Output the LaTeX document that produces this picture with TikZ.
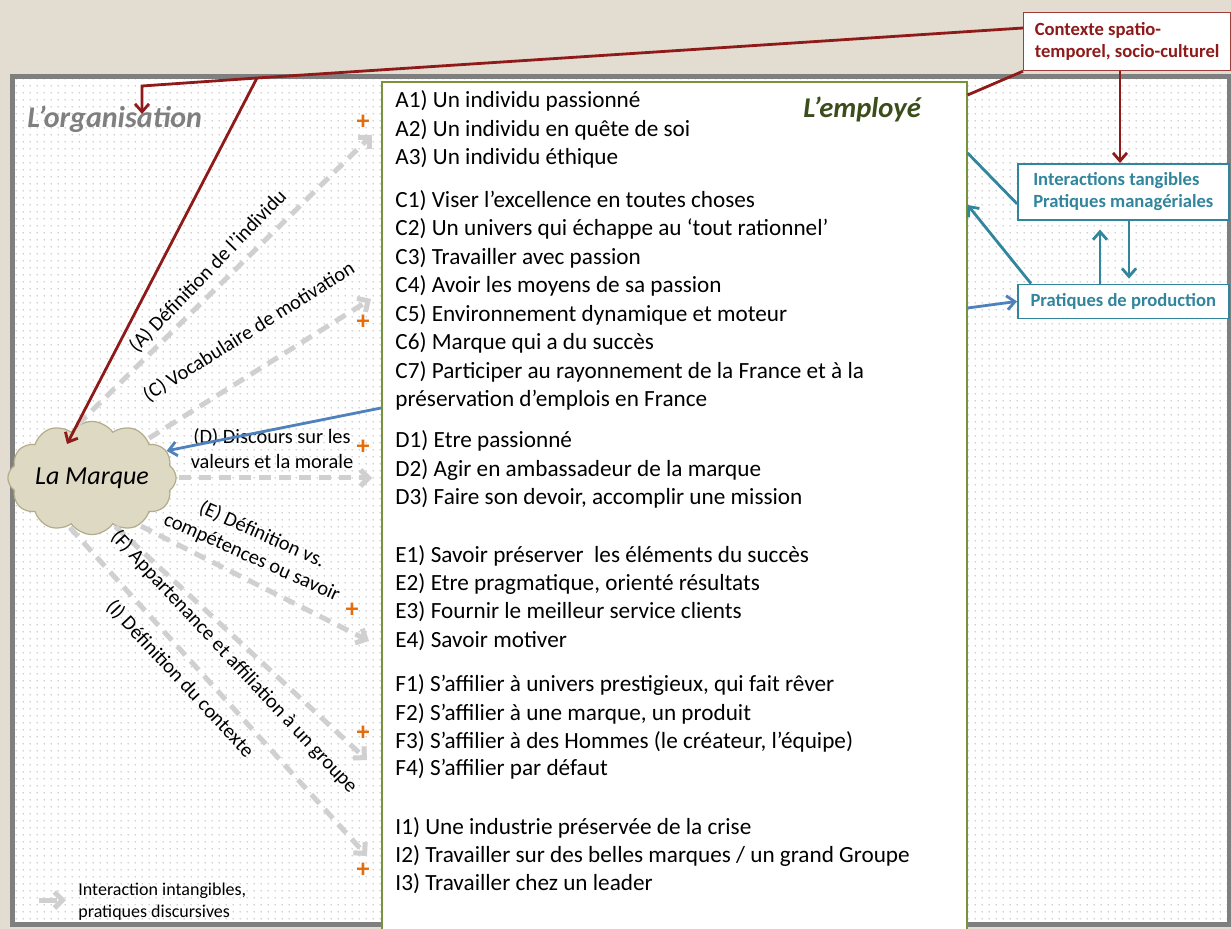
\documentclass[tikz,border=0pt]{standalone}
\usepackage{fontspec}
\setmainfont{Carlito}
\usepackage{tikz}
\usetikzlibrary{arrows.meta,positioning,shapes.symbols,patterns.meta}
\definecolor{paper}{HTML}{E3DCD0}
\definecolor{framegray}{HTML}{7F7F7F}
\definecolor{dotc}{HTML}{C4C4C4}
\definecolor{leaf}{HTML}{77933C}
\definecolor{leafdark}{HTML}{3B4D1A}
\definecolor{wine}{HTML}{8E1A1A}
\definecolor{tealc}{HTML}{31859C}
\definecolor{blu}{HTML}{4F81BD}
\definecolor{accent}{HTML}{E46C0A}
\definecolor{ghost}{HTML}{D0D0D0}
\definecolor{cloudfill}{HTML}{DDD9C3}
\definecolor{cloudline}{HTML}{B3AC8A}
\tikzdeclarepattern{
  name=dotgrid,
  type=uncolored,
  bounding box={(0pt,0pt) and (3.35pt,3.35pt)},
  tile size={(3.35pt,3.35pt)},
  code={\fill (1.675pt,1.675pt) circle (0.4pt);}
}
\tikzset{
  orgframe/.style={draw=framegray, line width=2.5pt},
  empbox/.style={rectangle, draw=leaf, line width=0.8pt, fill=white, inner sep=0pt},
  ctxbox/.style={rectangle, draw=wine!85, line width=0.6pt, fill=white, align=left,
                 text=wine, font=\bfseries\fontsize{9.3}{10.8}\selectfont},
  tanbox/.style={rectangle, draw=tealc, line width=0.8pt, fill=white, align=left,
                 text=tealc, font=\bfseries\fontsize{9.3}{11}\selectfont},
  brand/.style={cloud, cloud puffs=12, cloud puff arc=110, aspect=1.7, draw=cloudline,
                fill=cloudfill, line width=0.6pt, minimum width=76pt, minimum height=45pt,
                inner sep=0pt, font=\itshape\fontsize{13}{13}\selectfont},
  item/.style={anchor=base west, inner sep=0pt, font=\fontsize{11.6}{13}\selectfont},
  lbl/.style={align=center, inner sep=0pt, font=\fontsize{10.2}{12.5}\selectfont},
  plus/.style={text=accent, inner sep=0pt, font=\bfseries\fontsize{13}{13}\selectfont},
  garr/.style={-{Straight Barb[length=4pt,width=8pt]}, draw=ghost, line width=2.5pt,
               dash pattern=on 6pt off 4pt, shorten <=1pt},
  redl/.style={draw=wine, line width=1.4pt},
  reda/.style={redl, -{Straight Barb[length=4pt,width=7pt]}},
  tl/.style={draw=tealc, line width=1.4pt},
  ta/.style={tl, -{Straight Barb[length=4pt,width=7pt]}},
  ba/.style={draw=blu, line width=1.4pt, -{Straight Barb[length=4pt,width=7pt]}}
}

\begin{document}
\begin{tikzpicture}[x=0.5pt, y=-0.5pt]
  \path[use as bounding box, fill=paper] (0,0) rectangle (1231,929);
  \fill[white] (12,77) rectangle (1229,924);
  \fill[pattern=dotgrid, pattern color=dotc] (12,77) rectangle (1229,924);
  \draw[orgframe] (12,77) rectangle (1229,924);
  \node[anchor=base west, inner sep=0pt, text=framegray,
        font=\bfseries\itshape\fontsize{15}{15}\selectfont] (orgt) at (27,128) {L’organisation};

  \node[empbox, anchor=north west, minimum width=292.5pt, minimum height=425pt] (emp) at (381,81) {};
  \node[anchor=base west, inner sep=0pt, text=leafdark,
        font=\bfseries\itshape\fontsize{14.3}{14.3}\selectfont] (empt) at (803,118) {L’employé};
  \foreach \yy/\txt [count=\n] in {
    108/{A1) Un individu passionné},
    137/{A2) Un individu en quête de soi},
    165/{A3) Un individu éthique},
    208/{C1) Viser l’excellence en toutes choses},
    236/{C2) Un univers qui échappe au ‘tout rationnel’},
    265/{C3) Travailler avec passion},
    293/{C4) Avoir les moyens de sa passion},
    322/{C5) Environnement dynamique et moteur},
    350/{C6) Marque qui a du succès},
    379/{C7) Participer au rayonnement de la France et à la},
    407/{préservation d’emplois en France},
    448/{D1) Etre passionné},
    477/{D2) Agir en ambassadeur de la marque},
    505/{D3) Faire son devoir, accomplir une mission},
    563/{E1) Savoir préserver\ \ les éléments du succès},
    591/{E2) Etre pragmatique, orienté résultats},
    619/{E3) Fournir le meilleur service clients},
    648/{E4) Savoir motiver},
    691/{F1) S’affilier à univers prestigieux, qui fait rêver},
    720/{F2) S’affilier à une marque, un produit},
    748/{F3) S’affilier à des Hommes (le créateur, l’équipe)},
    776/{F4) S’affilier par défaut},
    834/{I1) Une industrie préservée de la crise},
    862/{I2) Travailler sur des belles marques \slash{} un grand Groupe},
    890/{I3) Travailler chez un leader}}
    \node[item] (it\n) at (395,\yy) {\txt};

  \node[ctxbox, anchor=north west, minimum width=103.5pt, minimum height=29pt] (ctx) at (1023,12)
    {Contexte spatio-\\temporel, socio-culturel};
  \node[tanbox, anchor=north west, minimum width=105.5pt, minimum height=28pt] (inter) at (1017,163)
    {Interactions tangibles\\Pratiques managériales};
  \node[tanbox, below=31.5pt of inter, minimum width=105.5pt, minimum height=17pt] (prod)
    {Pratiques de production};

  \node[brand] (marque) at (92,478) {La Marque};

  \coordinate (tA) at (372,135);
  \coordinate (tC) at (371,299);
  \coordinate (tD) at (372,478);
  \coordinate (tE) at (369,641);
  \coordinate (tF) at (367,760);
  \coordinate (tI) at (367,856);
  \draw[garr] (marque.107) -- (tA);
  \draw[garr] (marque.35) -- (tC);
  \draw[garr] (marque.east) -- (tD);
  \draw[garr] (marque.-45) -- (tE);
  \draw[garr] (marque.-65) -- (tF);
  \draw[garr] (marque.-116) -- (tI);

  \node[lbl, rotate=46] (lblA) at (208,271) {(A) Définition de l’individu};
  \node[lbl, rotate=32] (lblC) at (249,332) {(C) Vocabulaire de motivation};
  \node[lbl] (lblD) at (272,449) {(D) Discours sur les\\valeurs et la morale};
  \node[lbl, rotate=-24] (lblE) at (257,546) {(E) Définition vs.\\compétences ou savoir};
  \node[lbl, rotate=-47] (lblF) at (234,662) {(F) Appartenance et affiliation à un groupe};
  \node[lbl, rotate=-47] (lblI) at (180,679) {(I) Définition du contexte};

  \node[plus] (pA) at (363,122) {+};
  \node[plus] (pC) at (363,322) {+};
  \node[plus] (pD) at (363,447) {+};
  \node[plus] (pE) at (352,610) {+};
  \node[plus] (pF) at (363,733) {+};
  \node[plus] (pI) at (363,870) {+};

  \coordinate (lgS) at (37,900);
  \coordinate (lgE) at (66,900);
  \draw[garr, dash pattern=on 9pt off 2pt] (lgS) -- (lgE);
  \node[anchor=west, align=left, inner sep=0pt, font=\fontsize{9}{11}\selectfont] (leg) at (78,902)
    {Interaction intangibles,\\pratiques discursives};

  \coordinate (fork) at (257,78);
  \coordinate (bend) at (142,86);
  \coordinate (orgmark) at (142,114);
  \coordinate (marqtop) at (67,444);
  \draw[reda] (ctx.west |- 0,28) -- (fork) -- (bend) -- (orgmark);
  \draw[reda] (fork) -- (marqtop);
  \draw[redl] (ctx.south west) -- (emp.east |- 0,95);
  \draw[reda] (ctx.south -| 1120,0) -- (inter.north -| 1120,0);

  \draw[tl] ([yshift=-6pt]inter.west) -- (emp.east |- 0,153);
  \draw[ta] ([xshift=7pt]prod.north west) -- (emp.east |- 0,205);
  \draw[ta, shorten >=4.5pt] (prod.north -| 1100,0) -- (inter.south -| 1100,0);
  \draw[ta, shorten >=2.5pt] (inter.south -| 1129,0) -- (prod.north -| 1129,0);
  \draw[ba] (emp.east |- 0,308) -- (prod.west);
  \draw[ba] (emp.west |- 0,408) -- (marque.20);
\end{tikzpicture}
\end{document}
